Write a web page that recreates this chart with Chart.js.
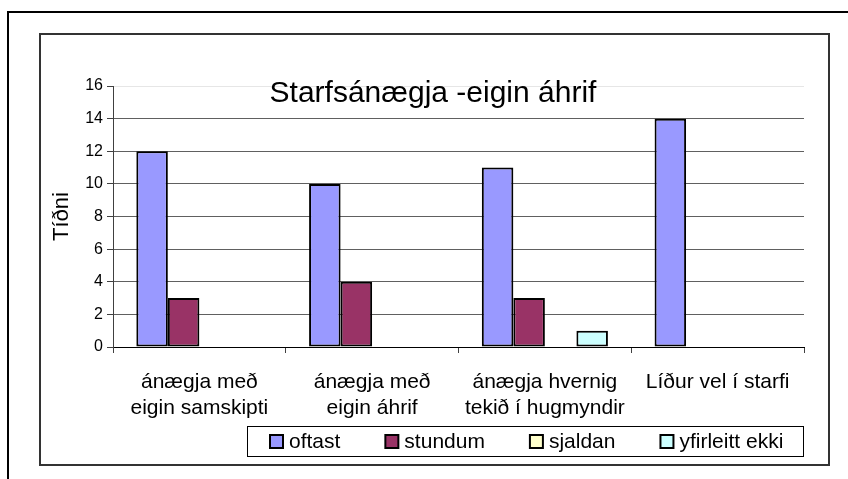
<!DOCTYPE html>
<html>
<head>
<meta charset="utf-8">
<script src="https://cdn.jsdelivr.net/npm/chart.js@4"></script>
<style>
  body { margin: 0; background: #fff; }
  canvas { display: block; }
</style>
</head>
<body>
<canvas id="myChart" width="848" height="479"></canvas>
<script>
const chartTitle = "Starfsánægja -eigin áhrif";
const yTitle = "Tíðni";
const categories = [
  ["ánægja með", "eigin samskipti"],
  ["ánægja með", "eigin áhrif"],
  ["ánægja hvernig", "tekið í hugmyndir"],
  "Líður vel í starfi",
];
const seriesNames = ["oftast", "stundum", "sjaldan", "yfirleitt ekki"];
const oftast = [12, 10, 11, 14];
const stundum = [3, 4, 3, 0];
const sjaldan = [0, 0, 0, 0];
const yfirleittEkki = [0, 0, 1, 0];
const seriesColors = ["#9999ff", "#993366", "#ffffcc", "#ccffff"];
const yMin = 0;
const yMax = 16;
const yStep = 2;

const FONT = '"Liberation Sans", Arial, sans-serif';
Chart.defaults.font.family = FONT;
Chart.defaults.color = "#000";

// frames, title and boxed legend drawn round the chart
const frame = {
  id: "frame",
  beforeDraw: (chart) => {
    const ctx = chart.ctx;
    ctx.save();
    ctx.lineWidth = 2;
    ctx.strokeStyle = "#000";
    ctx.strokeRect(8, 12, 900, 600);
    ctx.strokeStyle = "#333";
    ctx.strokeRect(40, 34, 789, 431);
    ctx.restore();
  },
  afterDraw: (chart) => {
    const ctx = chart.ctx;
    ctx.save();
    ctx.fillStyle = "#000";
    ctx.font = "30px " + FONT;
    ctx.textAlign = "center";
    ctx.textBaseline = "middle";
    ctx.fillText(chartTitle, 433, 94);

    // legend
    ctx.lineWidth = 1;
    ctx.strokeStyle = "#000";
    ctx.strokeRect(247.5, 426.5, 556, 30);
    ctx.font = "21px " + FONT;
    ctx.textAlign = "left";
    let x = 270;
    chart.data.datasets.forEach((ds) => {
      ctx.fillStyle = ds.backgroundColor;
      ctx.fillRect(x, 435, 13, 13);
      ctx.lineWidth = 2;
      ctx.strokeRect(x, 435, 13, 13);
      ctx.fillStyle = "#000";
      ctx.fillText(ds.label, x + 19, 442);
      x += 19 + ctx.measureText(ds.label).width + 45;
    });
    ctx.restore();
  },
};

const datasets = [oftast, stundum, sjaldan, yfirleittEkki].map((values, i) => ({
  label: seriesNames[i],
  data: values,
  backgroundColor: seriesColors[i],
  borderColor: "#000",
  borderWidth: 2,
  borderSkipped: false,
  categoryPercentage: 0.73,
  barPercentage: 1,
}));

new Chart(document.getElementById("myChart"), {
  type: "bar",
  data: { labels: categories, datasets: datasets },
  plugins: [frame],
  options: {
    responsive: false,
    animation: false,
    layout: { padding: { left: 40, top: 86, right: 44, bottom: 52 } },
    plugins: {
      legend: { display: false },
      title: { display: false },
      tooltip: { enabled: false },
    },
    scales: {
      x: {
        grid: {
          offset: true,
          drawOnChartArea: false,
          tickLength: 6,
          color: "#404040",
        },
        border: { color: "#000", width: 1 },
        ticks: {
          font: { size: 21, lineHeight: 1.24 },
          color: "#000",
          padding: 16,
          maxRotation: 0,
          autoSkip: false,
        },
        afterFit: (scale) => {
          scale.height = 80;
        },
      },
      y: {
        min: yMin,
        max: yMax,
        ticks: { stepSize: yStep, font: { size: 16 }, color: "#000", padding: 4 },
        grid: {
          color: (c) => (c.tick && c.tick.value === yMax ? "#e6e6e6" : c.tick && c.tick.value === 0 ? "#000" : "#606060"),
          tickColor: "#404040",
          tickLength: 6,
        },
        border: { color: "#404040", width: 1 },
        title: {
          display: true,
          text: yTitle,
          font: { size: 22 },
          color: "#000",
          padding: { top: 9, bottom: 0 },
        },
        afterFit: (scale) => {
          scale.width = 73;
        },
      },
    },
  },
});
</script>
</body>
</html>
